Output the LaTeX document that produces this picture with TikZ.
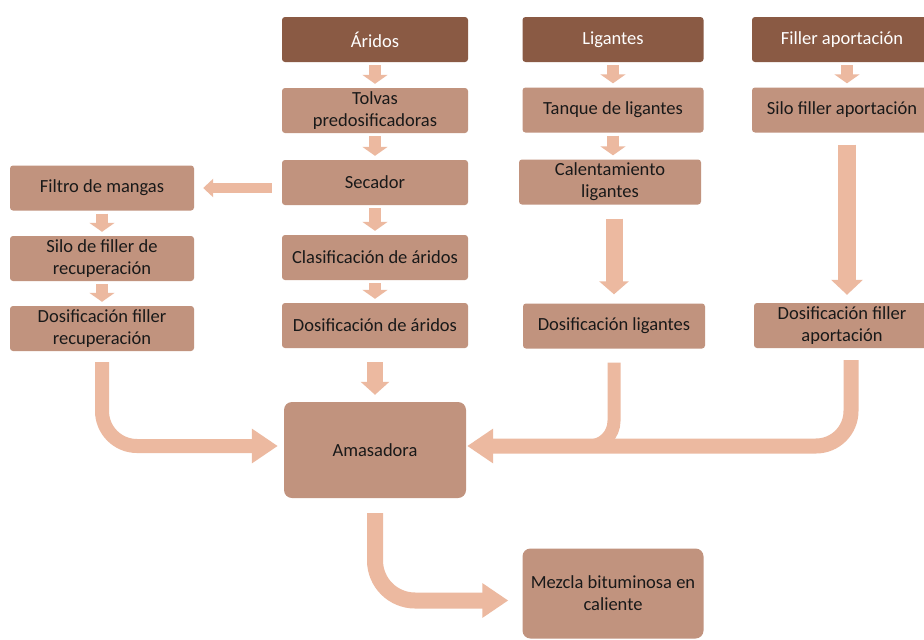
\documentclass[tikz,border=0pt]{standalone}
\usepackage{fontspec}
\setmainfont{Carlito}
\usepackage{xcolor}
\usepackage{tikz}
\usetikzlibrary{arrows.meta,positioning}

\definecolor{cafeOsc}{HTML}{8A5A44}
\definecolor{cafeClaro}{HTML}{C1937E}
\definecolor{salmon}{HTML}{ECB9A0}

\begin{document}
\begin{tikzpicture}[x=1pt,y=-1pt,
	base/.style={rounded corners=3pt,align=center,inner sep=0pt,font=\fontsize{18.5}{22}\selectfont},
	cabeza/.style={base,fill=cafeOsc,text=white,minimum width=#1,minimum height=45pt},
	caja/.style={base,fill=cafeClaro,text=black!90,minimum width=#1,minimum height=45pt},
	chica/.style={draw=salmon,line width=12pt,-{Triangle[width=25pt,length=9pt]},shorten <=3pt,shorten >=4pt},
	curva/.style={draw=salmon,line width=14pt,-{Triangle[width=33pt,length=26pt]},rounded corners=35pt}]
	\fill[white] (0,0) rectangle (924,640);
	\clip (0,0) rectangle (924,640);
	\node[cabeza=186pt] (aridos) at (375,39.5) {Áridos};
	\node[cabeza=181pt] (ligantes) at (613,39.5) {Ligantes};
	\node[cabeza=180pt] (filler) at (842,39.5) {Filler aportación};
	\node[caja=186pt] (tolvas) at (375,110.5) {Tolvas\\predosificadoras};
	\node[caja=181pt] (tanque) at (613,110) {Tanque de ligantes};
	\node[caja=180pt] (silofill) at (842,110) {Silo filler aportación};
	\node[caja=186pt] (secador) at (375,182.5) {Secador};
	\node[caja=182pt] (calent) at (610,182) {Calentamiento\\ligantes};
	\node[caja=184pt] (filtro) at (102,188) {Filtro de mangas};
	\node[caja=184pt] (silorec) at (102,258.5) {Silo de filler de\\recuperación};
	\node[caja=184pt] (dosrec) at (102,328.5) {Dosificación filler\\recuperación};
	\node[caja=186pt] (clasif) at (375,257.5) {Clasificación de áridos};
	\node[caja=186pt] (dosar) at (375,325.5) {Dosificación de áridos};
	\node[caja=182pt] (doslig) at (614,326) {Dosificación ligantes};
	\node[caja=176pt] (dosfill) at (842,325.5) {Dosificación filler\\aportación};
	\node[caja=182pt,minimum height=96pt,rounded corners=8pt] (amas) at (375,450) {Amasadora};
	\node[caja=181pt,minimum height=90pt,rounded corners=8pt] (mezcla) at (613,593.5) {Mezcla bituminosa en\\caliente};
	\coordinate (junta) at (560,446);

	\draw[chica] (aridos) -- (tolvas);
	\draw[chica] (tolvas) -- (secador);
	\draw[chica] (secador) -- (clasif);
	\draw[chica] (clasif) -- (dosar);
	\draw[chica] (ligantes) -- (tanque);
	\draw[chica] (tanque.south) -- (tanque.south |- calent.north);
	\draw[chica] ([xshift=5pt]filler.south) -- ([xshift=5pt]silofill.north);
	\draw[chica] (filtro) -- (silorec);
	\draw[chica] (silorec) -- (dosrec);
	\draw[draw=salmon,line width=10pt,-{Triangle[width=18pt,length=10pt]},shorten <=10pt,shorten >=9pt]
	(secador.west |- filtro.east) -- (filtro.east);
	\draw[draw=salmon,line width=17pt,-{Triangle[width=29pt,length=13pt]},shorten <=14pt,shorten >=9pt]
	(doslig.north |- calent.south) -- (doslig.north);
	\draw[draw=salmon,line width=18pt,-{Triangle[width=31pt,length=15pt]},shorten <=12pt,shorten >=8pt]
	([xshift=5pt]silofill.south) -- ([xshift=5pt]dosfill.north);
	\draw[draw=salmon,line width=16pt,-{Triangle[width=28pt,length=13pt]},shorten <=14pt,shorten >=7pt]
	(dosar) -- (amas);
	\draw[curva,shorten <=11pt,shorten >=6pt] (dosrec.south) |- ([yshift=4pt]amas.west);
	\draw[draw=salmon,line width=13pt,rounded corners=25pt,shorten <=14pt] (doslig.south) |- (junta);
	\draw[curva,line width=15pt,shorten <=12pt,shorten >=1pt] ([xshift=9pt]dosfill.south) |- ([yshift=4pt]amas.east);
	\draw[curva,line width=16pt,rounded corners=40pt,shorten <=15pt,shorten >=14pt] (amas.south) |- ([yshift=-7pt]mezcla.west);
\end{tikzpicture}
\end{document}
